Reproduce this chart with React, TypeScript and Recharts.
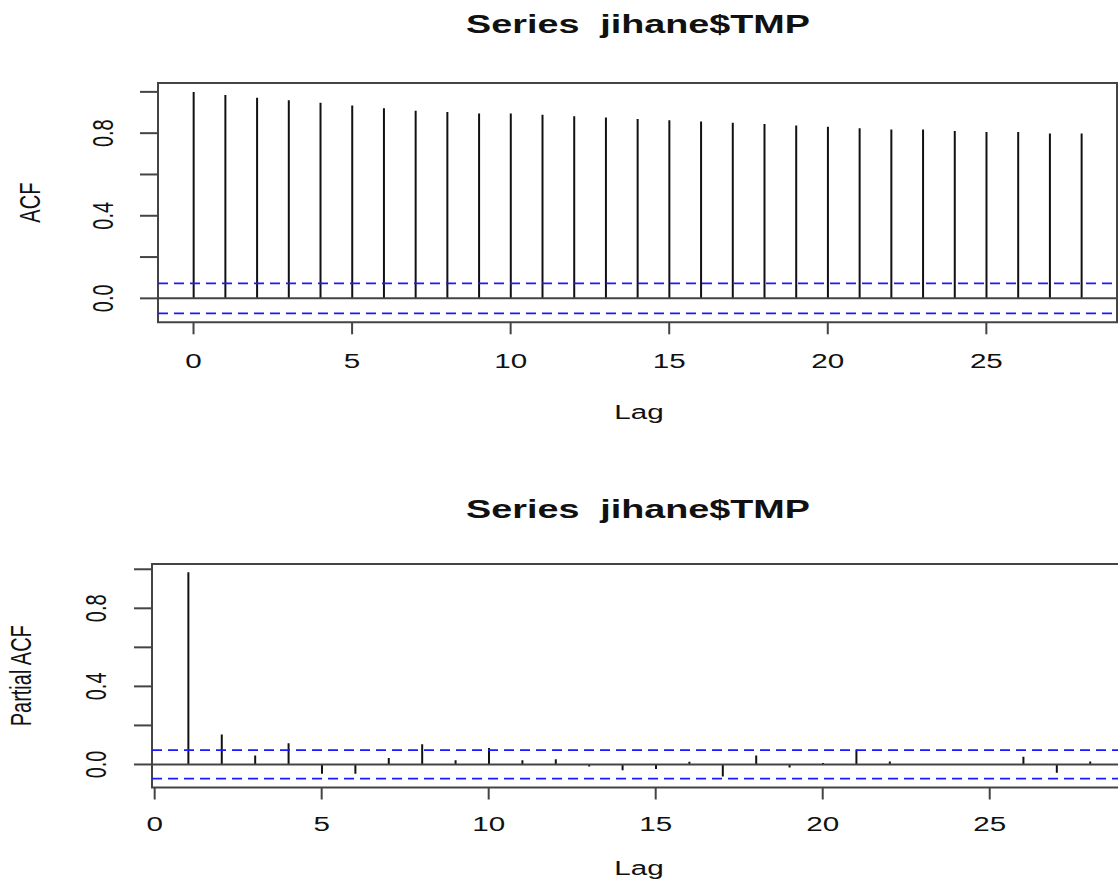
import React from 'react';
import {
  ComposedChart,
  Bar,
  XAxis,
  YAxis,
  ReferenceLine,
  ReferenceArea,
} from 'recharts';

// lags and values
const acfLags = [0, 1, 2, 3, 4, 5, 6, 7, 8, 9, 10, 11, 12, 13, 14, 15, 16, 17, 18, 19, 20, 21, 22, 23, 24, 25, 26, 27, 28];
const acfValues = [
  1.0, 0.985, 0.971, 0.96, 0.947, 0.934, 0.921, 0.908, 0.902, 0.895, 0.895, 0.889, 0.882, 0.876, 0.869,
  0.863, 0.856, 0.85, 0.844, 0.837, 0.831, 0.824, 0.818, 0.818, 0.811, 0.806, 0.806, 0.798, 0.798,
];
const pacfLags = [1, 2, 3, 4, 5, 6, 7, 8, 9, 10, 11, 12, 13, 14, 15, 16, 17, 18, 19, 20, 21, 22, 23, 24, 25, 26, 27, 28];
const pacfValues = [
  0.985, 0.153, 0.046, 0.109, -0.047, -0.047, 0.033, 0.103, 0.022, 0.084, 0.022, 0.027, -0.01, -0.029,
  -0.023, 0.014, -0.062, 0.046, -0.016, 0.008, 0.077, 0.015, 0.002, -0.002, 0.001, 0.039, -0.043, 0.015,
];
const confLimit = 0.073;
const xTicks = [0, 5, 10, 15, 20, 25];
const yTicks = [0, 0.2, 0.4, 0.6, 0.8, 1.0];
const yLabelled = [0, 0.4, 0.8];
const title = 'Series  jihane$TMP';

const acfData = acfLags.map((lag, i) => ({ lag, value: acfValues[i] }));
const pacfData = pacfLags.map((lag, i) => ({ lag, value: pacfValues[i] }));

const FONT = '"Liberation Sans", Arial, Helvetica, sans-serif';
const SX = 1.48; // the reference is stretched sideways
const INK = '#111';
const FRAME = '#444';

function XTick(props: any) {
  const { x, y, payload, dy } = props;
  return (
    <text
      transform={`translate(${x},${y + dy}) scale(${SX},1)`}
      textAnchor="middle"
      fontSize={20}
      fontFamily={FONT}
      fill={INK}
    >
      {payload.value}
    </text>
  );
}

function YTick(props: any) {
  const { x, y, payload, dx } = props;
  if (!yLabelled.some((v) => Math.abs(v - payload.value) < 1e-6)) return <g />;
  return (
    <text
      transform={`translate(${x + dx},${y}) scale(${SX},1) rotate(-90)`}
      textAnchor="middle"
      fontSize={20}
      fontFamily={FONT}
      fill={INK}
    >
      {payload.value.toFixed(1)}
    </text>
  );
}

function TextAt({ x, y, children, bold, rotate, size }: any) {
  const r = rotate ? ' rotate(-90)' : '';
  return (
    <text
      transform={`translate(${x},${y}) scale(${SX},1)${r}`}
      textAnchor="middle"
      fontSize={size}
      fontWeight={bold ? 'bold' : 'normal'}
      fontFamily={FONT}
      fill={INK}
      style={{ whiteSpace: 'pre' }}
    >
      {children}
    </text>
  );
}

interface PanelProps {
  data: { lag: number; value: number }[];
  xDomain: [number, number];
  yDomain: [number, number];
  margin: { top: number; right: number; bottom: number; left: number };
  yLabel: string;
  yLabelX: number;
  titleY: number;
  lagY: number;
  xTickDy: number;
  yTickDx: number;
}

function Panel(p: PanelProps) {
  return (
    <ComposedChart width={1130} height={441} data={p.data} margin={p.margin}>
      <XAxis
        dataKey="lag"
        type="number"
        domain={p.xDomain}
        allowDataOverflow
        ticks={xTicks}
        interval={0}
        axisLine={false}
        tickSize={12}
        tickLine={{ stroke: FRAME, strokeWidth: 2 }}
        tick={(t: any) => <XTick {...t} dy={p.xTickDy} />}
        height={60}
      />
      <YAxis
        type="number"
        domain={p.yDomain}
        allowDataOverflow
        ticks={yTicks}
        interval={0}
        axisLine={false}
        tickSize={18}
        tickLine={{ stroke: FRAME, strokeWidth: 2 }}
        tick={(t: any) => <YTick {...t} dx={p.yTickDx} />}
        width={60}
      />
      <ReferenceArea
        x1={p.xDomain[0]}
        x2={p.xDomain[1]}
        y1={p.yDomain[0]}
        y2={p.yDomain[1]}
        fill="none"
        fillOpacity={0}
        stroke={FRAME}
        strokeWidth={2}
      />
      <ReferenceLine y={0} stroke={FRAME} strokeWidth={2} />
      <ReferenceLine y={confLimit} stroke="#1a1aff" strokeWidth={1.7} strokeDasharray="10 6" />
      <ReferenceLine y={-confLimit} stroke="#1a1aff" strokeWidth={1.7} strokeDasharray="10 6" />
      <Bar dataKey="value" barSize={2} fill={INK} isAnimationActive={false} />
      <TextAt x={638} y={p.titleY} bold size={25.5}>
        {title}
      </TextAt>
      <TextAt x={639} y={p.lagY} size={20}>
        Lag
      </TextAt>
      <TextAt x={p.yLabelX} y={p.margin.top + (441 - p.margin.top - p.margin.bottom - 60) / 2} rotate size={20}>
        {p.yLabel}
      </TextAt>
    </ComposedChart>
  );
}

export default function App() {
  return (
    <div
      style={{
        position: 'absolute',
        left: 0,
        top: 0,
        width: 1118,
        height: 882,
        overflow: 'hidden',
        background: '#fff',
      }}
    >
      <Panel
        data={acfData}
        xDomain={[-1.12, 29.12]}
        yDomain={[-0.116, 1.043]}
        margin={{ top: 83, right: 13, bottom: 58.7, left: 98 }}
        yLabel="ACF"
        yLabelX={39.5}
        titleY={33}
        lagY={419}
        xTickDy={31.7}
        yTickDx={-25}
      />
      <Panel
        data={pacfData}
        xDomain={[-0.08, 29.08]}
        yDomain={[-0.118, 1.027]}
        margin={{ top: 123, right: 4, bottom: 34.5, left: 92 }}
        yLabel="Partial ACF"
        yLabelX={30.5}
        titleY={77}
        lagY={434}
        xTickDy={29.5}
        yTickDx={-26}
      />
    </div>
  );
}
